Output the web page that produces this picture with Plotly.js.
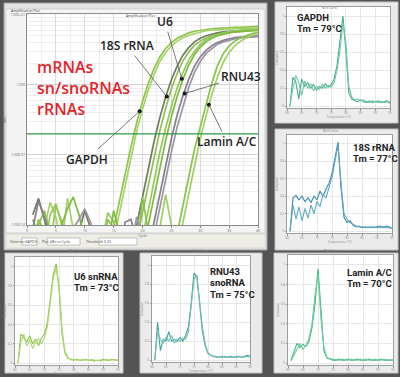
<!DOCTYPE html>
<html><head><meta charset="utf-8">
<script src="https://cdn.plot.ly/plotly-3.0.1.min.js"></script>
<style>html,body{margin:0;padding:0;background:#545454;}#chart{width:400px;height:377px;}</style>
</head><body><div id="chart"></div>
<script>
// ---------------- DATA ----------------
const cycles = [1,2,3,4,5,6,7,8,9,10,11,12,13,14,15,16,17,18,19,20,21,22,23,24,25,26,27,28,29,30,31,32,33,34,35,36,37,38,39,40];
const gapdhA = [0.006,0.012,0.008,0.005,0.019,0.011,0.006,0.004,0.008,0.005,0.004,0.006,0.005,0.004,0.009,0.021,0.053,0.13,0.29,0.58,1.05,1.7,2.5,3.3,4.0,4.6,5.1,5.5,5.8,6.0,6.2,6.3,6.4,6.5,6.5,6.6,6.6,6.7,6.7,6.8];
const gapdhB = [0.004,0.005,0.009,0.021,0.013,0.005,0.024,0.009,0.005,0.004,0.005,0.004,0.004,0.003,0.006,0.015,0.038,0.095,0.22,0.45,0.84,1.4,2.15,2.9,3.6,4.2,4.7,5.1,5.4,5.7,5.9,6.0,6.1,6.2,6.2,6.3,6.3,6.4,6.4,6.5];
const rrna18sA = [0.014,0.024,0.012,0.006,0.005,0.004,0.005,0.006,0.008,0.016,0.009,0.005,0.004,0.006,0.005,0.004,0.005,0.004,0.01,0.025,0.063,0.155,0.34,0.67,1.18,1.85,2.65,3.4,4.1,4.6,5.0,5.3,5.5,5.7,5.8,5.9,6.0,6.0,6.1,6.1];
const rrna18sB = [0.005,0.01,0.016,0.008,0.005,0.004,0.004,0.005,0.004,0.006,0.004,0.005,0.004,0.012,0.009,0.005,0.004,0.005,0.006,0.015,0.038,0.095,0.22,0.46,0.88,1.45,2.2,2.95,3.65,4.2,4.65,5.0,5.25,5.45,5.6,5.7,5.8,5.85,5.9,5.95];
const u6A = [0.004,0.005,0.004,0.014,0.02,0.009,0.005,0.004,0.005,0.004,0.005,0.004,0.006,0.015,0.011,0.006,0.004,0.005,0.003,0.007,0.016,0.042,0.11,0.24,0.49,0.9,1.5,2.25,3.0,3.75,4.4,4.9,5.2,5.5,5.7,5.9,6.0,6.1,6.1,6.2];
const u6B = [0.012,0.007,0.004,0.005,0.004,0.01,0.017,0.025,0.014,0.006,0.004,0.005,0.004,0.005,0.016,0.008,0.005,0.004,0.005,0.004,0.01,0.026,0.066,0.16,0.35,0.68,1.2,1.9,2.7,3.45,4.1,4.6,5.0,5.3,5.5,5.7,5.8,5.9,6.0,6.0];
const rnu43A = [0.009,0.022,0.013,0.007,0.004,0.005,0.004,0.005,0.004,0.005,0.004,0.005,0.004,0.006,0.005,0.004,0.011,0.012,0.006,0.005,0.004,0.011,0.028,0.07,0.17,0.37,0.7,1.2,1.85,2.5,3.1,3.6,4.0,4.3,4.5,4.7,4.8,4.9,5.0,5.0];
const rnu43B = [0.004,0.005,0.004,0.005,0.004,0.005,0.006,0.009,0.012,0.017,0.011,0.006,0.004,0.005,0.004,0.005,0.004,0.005,0.013,0.006,0.003,0.007,0.018,0.045,0.11,0.25,0.5,0.92,1.5,2.15,2.8,3.3,3.8,4.1,4.35,4.5,4.65,4.75,4.8,4.85];
const laminA = [0.004,0.005,0.004,0.005,0.004,0.005,0.004,0.005,0.004,0.005,0.004,0.005,0.004,0.005,0.004,0.005,0.004,0.005,0.004,0.025,0.008,0.005,0.004,0.005,0.003,0.008,0.019,0.048,0.12,0.25,0.52,1.05,1.9,2.8,3.6,4.2,4.7,5.1,5.4,5.6];
const laminB = [0.004,0.005,0.004,0.005,0.004,0.005,0.004,0.005,0.004,0.005,0.004,0.005,0.004,0.005,0.004,0.005,0.004,0.005,0.004,0.005,0.004,0.005,0.009,0.027,0.01,0.004,0.011,0.028,0.07,0.17,0.36,0.72,1.3,2.1,2.9,3.6,4.2,4.7,5.1,5.4];
const threshold = 0.2;
const labelNames = ["GAPDH","18S rRNA","U6","RNU43","Lamin A/C"];
const labelCycles = [19.5,24.2,26.8,27.3,31.5];
const labelValues = [0.42,0.68,1.22,0.75,0.52];
const yTickVals = [0.01,0.1,1,10];
const yTickText = ["1.00E-02","1.00E-01","1.000","1.00E+01"];

const temps = [61,62,63,64,65,66,67,68,69,70,71,72,73,74,75,76,77,78,79,80,81,82,83,84,85,86,87,88,89,90,91,92,93,94,95];
const meltGapdhA = [0.0,0.32,0.27,0.08,0.3,0.22,0.26,0.2,0.24,0.18,0.22,0.2,0.25,0.21,0.24,0.3,0.45,0.7,1.0,0.62,0.15,0.08,0.06,0.05,0.07,0.05,0.04,0.06,0.04,0.05,0.06,0.04,0.05,0.06,0.04];
const meltGapdhB = [0.0,0.2,0.34,0.26,0.12,0.28,0.2,0.25,0.17,0.22,0.19,0.24,0.2,0.23,0.21,0.26,0.4,0.62,0.92,0.7,0.22,0.1,0.07,0.08,0.06,0.07,0.05,0.04,0.06,0.05,0.04,0.05,0.04,0.05,0.03];
const melt18sA = [0.0,0.38,0.41,0.36,0.4,0.34,0.38,0.33,0.4,0.36,0.46,0.4,0.48,0.55,0.66,0.85,1.02,0.5,0.16,0.1,0.12,0.07,0.05,0.06,0.04,0.05,0.04,0.05,0.04,0.05,0.06,0.04,0.06,0.05,0.03];
const melt18sB = [0.0,0.3,0.14,0.28,0.12,0.26,0.15,0.3,0.2,0.34,0.28,0.42,0.38,0.5,0.62,0.8,0.98,0.55,0.2,0.14,0.1,0.08,0.06,0.05,0.05,0.04,0.05,0.04,0.05,0.04,0.04,0.05,0.04,0.04,0.03];
const meltU6A = [0.0,0.3,0.26,0.22,0.28,0.2,0.25,0.18,0.26,0.3,0.42,0.7,0.92,1.03,0.75,0.3,0.1,0.05,0.04,0.03,0.04,0.03,0.03,0.04,0.03,0.03,0.02,0.03,0.03,0.04,0.03,0.03,0.04,0.03,0.03];
const meltU6B = [0.0,0.22,0.3,0.18,0.24,0.15,0.22,0.25,0.2,0.26,0.38,0.62,0.88,0.98,0.8,0.35,0.12,0.06,0.03,0.04,0.03,0.03,0.04,0.03,0.03,0.04,0.03,0.03,0.02,0.03,0.04,0.03,0.03,0.04,0.03];
const meltRnu43A = [0.0,0.4,0.1,0.22,0.2,0.3,0.2,0.22,0.2,0.24,0.2,0.26,0.35,0.6,0.92,0.88,0.6,0.3,0.15,0.07,0.05,0.04,0.03,0.03,0.04,0.03,0.03,0.04,0.03,0.03,0.04,0.03,0.04,0.05,0.04];
const meltRnu43B = [0.0,0.3,0.22,0.18,0.24,0.2,0.26,0.18,0.22,0.2,0.23,0.22,0.3,0.55,0.85,0.9,0.65,0.35,0.17,0.08,0.05,0.04,0.04,0.03,0.03,0.04,0.03,0.03,0.03,0.04,0.03,0.04,0.03,0.04,0.03];
const meltLaminA = [0.03,0.12,0.2,0.16,0.19,0.17,0.22,0.36,0.6,0.96,0.5,0.12,0.05,0.04,0.03,0.03,0.04,0.03,0.03,0.04,0.03,0.03,0.04,0.03,0.03,0.03,0.04,0.03,0.03,0.03,0.04,0.03,0.03,0.03,0.03];
const meltLaminB = [0.02,0.08,0.15,0.2,0.14,0.18,0.25,0.4,0.7,0.9,0.45,0.15,0.06,0.04,0.04,0.03,0.03,0.04,0.03,0.03,0.04,0.03,0.03,0.04,0.03,0.04,0.03,0.03,0.04,0.03,0.03,0.04,0.03,0.03,0.03];
const meltLabels = [["GAPDH","Tm = 79°C"],["18S rRNA","Tm = 77°C"],["U6 snRNA","Tm = 73°C"],["RNU43","snoRNA","Tm = 75°C"],["Lamin A/C","Tm = 70°C"]];

// ---------------- LAYOUT HELPERS ----------------
const W = 400, H = 377;
const xd = (a,b) => [a/W, b/W];
const yd = (top,bottom) => [1-bottom/H, 1-top/H];
const px = v => v/W, py = v => 1-v/H;
const FONT = '"Open Sans", "DejaVu Sans", sans-serif';
const NARROW = 'Roboto, "Open Sans", sans-serif';

const traces = [];
function amp(y, color, w) {
  traces.push({x: cycles, y: y, type:'scatter', mode:'lines', xaxis:'x', yaxis:'y',
    line:{color: color, width: w||1.7}, hoverinfo:'skip', showlegend:false});
}
amp(gapdhA,'#8fc54a'); amp(gapdhB,'#a6d26a');
amp(rrna18sA,'#6f7b5e'); amp(rrna18sB,'#8fbf55');
amp(u6A,'#93c95a'); amp(u6B,'#7dbb3f');
amp(rnu43A,'#867d8d'); amp(rnu43B,'#9c95a2');
amp(laminA,'#86c44a'); amp(laminB,'#9fd064');
traces.push({x: labelCycles, y: labelValues, type:'scatter', mode:'markers', xaxis:'x', yaxis:'y',
  marker:{color:'#111', size:4}, hoverinfo:'skip', showlegend:false});

const meltSets = [
  [meltGapdhA, meltGapdhB, '#3fae8c', '#74c6a6'],
  [melt18sA, melt18sB, '#3a88ad', '#62a9c3'],
  [meltU6A, meltU6B, '#8cc63f', '#acd777'],
  [meltRnu43A, meltRnu43B, '#3fa29f', '#74c0b4'],
  [meltLaminA, meltLaminB, '#39b67c', '#72cc9f']
];
meltSets.forEach((s,i) => {
  const n = i+2;
  [0,1].forEach(k => traces.push({x: temps, y: s[k], type:'scatter', mode:'lines',
    xaxis:'x'+n, yaxis:'y'+n, line:{color: s[k+2], width:1.1}, hoverinfo:'skip', showlegend:false}));
});

const layout = {
  width: W, height: H, margin:{l:0,r:0,t:0,b:0},
  paper_bgcolor:'#545454', plot_bgcolor:'rgba(0,0,0,0)',
  font:{family: FONT, color:'#333'},
  showlegend:false,
  xaxis:{domain: xd(27,258), anchor:'y', range:[0,40], dtick:5, tick0:0,
    showgrid:true, gridcolor:'#cfcfcf', gridwidth:0.7, zeroline:false,
    minor:{dtick:2.5, showgrid:true, gridcolor:'#e2e2e2', gridwidth:0.6},
    showline:true, linecolor:'#8a8a8a', mirror:true, ticks:'outside', ticklen:1.5, tickcolor:'#888',
    tickfont:{size:3.5, color:'#666'}, title:{text:'Cycle', font:{size:3.5, color:'#555'}, standoff:1}},
  yaxis:{domain: yd(14,225), anchor:'x', type:'log', range:[-2, 1.01],
    tickvals: yTickVals, ticktext: yTickText,
    showgrid:true, gridcolor:'#c8c8c8', gridwidth:0.7, zeroline:false,
    minor:{dtick:'D1', showgrid:true, gridcolor:'#e2e2e2', gridwidth:0.6},
    showline:true, linecolor:'#8a8a8a', mirror:true, ticks:'', tickfont:{size:3.5, color:'#666'},
    title:{text:'ΔRn', font:{size:3.5, color:'#555'}, standoff:4}},
  shapes:[], annotations:[]
};

// main window frame and plot background
layout.shapes.push(
  {type:'rect', xref:'paper', yref:'paper', layer:'below', x0:px(4), x1:px(267), y0:py(250), y1:py(3),
    fillcolor:'#e3e3e3', line:{color:'#a0a0a0', width:1}},
  {type:'rect', xref:'paper', yref:'paper', layer:'below', x0:px(6), x1:px(265), y0:py(233), y1:py(9),
    fillcolor:'#f4f4f4', line:{color:'#c8c8c8', width:0.8}},
  {type:'rect', xref:'paper', yref:'paper', layer:'below', x0:px(27), x1:px(258), y0:py(225), y1:py(14),
    fillcolor:'#ffffff', line:{width:0}},
  {type:'rect', xref:'paper', yref:'paper', layer:'below', x0:px(6), x1:px(265), y0:py(248), y1:py(234),
    fillcolor:'#efeee6', line:{color:'#cfcfcf', width:0.6}},
  {type:'rect', xref:'paper', yref:'paper', layer:'above', x0:px(22), x1:px(37), y0:py(245), y1:py(238),
    fillcolor:'#ffffff', line:{color:'#9a9a9a', width:0.6}},
  {type:'rect', xref:'paper', yref:'paper', layer:'above', x0:px(47), x1:px(80), y0:py(245), y1:py(238),
    fillcolor:'#ffffff', line:{color:'#9a9a9a', width:0.6}},
  {type:'rect', xref:'paper', yref:'paper', layer:'above', x0:px(99), x1:px(137), y0:py(245), y1:py(238),
    fillcolor:'#ffffff', line:{color:'#9a9a9a', width:0.6}}
);

const meltBoxes = [
  {frame:[275,2,398,123], plot:[287,7,390,108]},
  {frame:[275,129,398,250], plot:[287,135,392,233]},
  {frame:[5,253,123,373], plot:[15,257,118,365]},
  {frame:[140,253,262,373], plot:[152,256,250,362]},
  {frame:[274,253,398,373], plot:[288,255,393,365]}
];
meltBoxes.forEach((b,i) => {
  const n = i+2;
  layout['xaxis'+n] = {domain: xd(b.plot[0], b.plot[2]), anchor:'y'+n, range:[60,95], dtick:5, tick0:60,
    showgrid:true, gridcolor:'#d9d9d9', gridwidth:0.6, zeroline:false,
    showline:true, linecolor:'#9c9c9c', mirror:true, ticks:'outside', ticklen:1.5, tickcolor:'#999',
    tickfont:{size:3, color:'#888'}, title:{text:'Temperature (°C)', font:{size:3,color:'#888'}, standoff:0}};
  layout['yaxis'+n] = {domain: yd(b.plot[1], b.plot[3]), anchor:'x'+n, range:[-0.02,1.1], dtick:0.2, tick0:0,
    showgrid:true, gridcolor:'#d9d9d9', gridwidth:0.6, zeroline:false,
    showline:true, linecolor:'#9c9c9c', mirror:true, ticks:'outside', ticklen:1.5, tickcolor:'#999',
    tickfont:{size:3, color:'#888'}, title:{text:'Derivative', font:{size:3,color:'#888'}, standoff:1}};
  layout.shapes.push({type:'rect', xref:'paper', yref:'paper', layer:'below',
    x0:px(b.frame[0]), x1:px(b.frame[2]), y0:py(b.frame[3]), y1:py(b.frame[1]),
    fillcolor:'#ebebeb', line:{color:'#c4c4c4', width:1}});
  layout.shapes.push({type:'rect', xref:'paper', yref:'paper', layer:'below',
    x0:px(b.plot[0]), x1:px(b.plot[2]), y0:py(b.plot[3]), y1:py(b.plot[1]),
    fillcolor:'#ffffff', line:{width:0}});
  layout.annotations.push({xref:'paper', yref:'paper', x:px((b.plot[0]+b.plot[2])/2), y:py(b.frame[1]+2.2),
    text:'Melt Curve', showarrow:false, font:{size:3,color:'#777'}});
});

// threshold line
layout.shapes.push({type:'line', xref:'x domain', yref:'y', x0:0, x1:1, y0:threshold, y1:threshold,
  line:{color:'#2f9e44', width:1.3}, layer:'above'});

// small window texts
const tiny = (x,y,t,anchor) => layout.annotations.push({xref:'paper', yref:'paper', x:px(x), y:py(y), text:t,
  showarrow:false, xanchor:anchor||'left', font:{size:3.5, color:'#444'}});
tiny(9,6,'Amplification Plot');
tiny(140,10.5,'Amplification Plot','center');
tiny(8,241.5,'Detector:');
tiny(23,241.5,'GAPDH');
tiny(40,241.5,'Plot:');
tiny(48,241.5,'ΔRn vs Cycle');
tiny(84,241.5,'Threshold:');
tiny(102,241.5, String(threshold.toFixed(2)));

// red overlay text
layout.annotations.push({xref:'paper', yref:'paper', x:px(35), y:py(88), xanchor:'left', yanchor:'middle', align:'left',
  text:'mRNAs<br>sn/snoRNAs<br>rRNAs', showarrow:false,
  font:{family:FONT, size:16, color:'#e3242b', weight:600}});

// pointer labels in the amplification plot
const offs = [[-53,48],[-40,-51],[-17,-57],[56,-17],[18,37]];
labelNames.forEach((name,i) => {
  layout.annotations.push({xref:'x', yref:'y', x:labelCycles[i], y:Math.log10(labelValues[i]),
    text:name, showarrow:true, arrowhead:0, arrowwidth:0.8, arrowcolor:'#555', standoff:0,
    ax:offs[i][0], ay:offs[i][1], font:{family:FONT, size:12, color:'#222', weight:600}});
});

// melt labels
const meltLabelPos = [[295,17],[351,147],[72,276],[208,271],[345,272]];
meltLabels.forEach((lines,i) => {
  lines.forEach((t,k) => {
    layout.annotations.push({xref:'paper', yref:'paper', x:px(meltLabelPos[i][0]), y:py(meltLabelPos[i][1]+k*11.5),
      xanchor:'left', yanchor:'middle', text:t, showarrow:false,
      font:{family:NARROW, size:9.5, color:'#222', weight:700}});
  });
});

Plotly.newPlot('chart', traces, layout, {displayModeBar:false, staticPlot:true});
</script>
</body></html>
